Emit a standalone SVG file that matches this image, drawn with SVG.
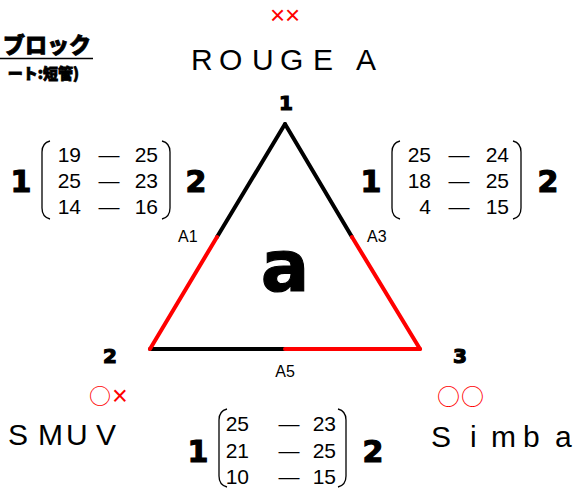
<svg xmlns="http://www.w3.org/2000/svg" width="580" height="489" viewBox="0 0 580 489">
<style>
.jp{font-family:"Noto Sans CJK JP","Noto Sans",sans-serif;font-weight:900;fill:#000;stroke:#000;stroke-width:0.8}
.big{font-family:"DejaVu Sans",sans-serif;font-weight:bold;fill:#000;stroke:#000;stroke-width:1.2}
.num{font-family:"Liberation Sans",Arial,sans-serif;font-size:21px;fill:#000}
.lbl{font-family:"Liberation Sans",Arial,sans-serif;font-size:16px;fill:#000}
.name{font-family:"Liberation Sans",Arial,sans-serif;font-size:30px;fill:#000}
.mark{font-family:"Noto Sans CJK JP","Noto Sans",sans-serif;fill:#f00}
.x{font-family:"Liberation Sans",Arial,sans-serif;fill:#f00}
.par{fill:none;stroke:#000;stroke-width:1.3}
.edge{fill:none;stroke-width:4;stroke-linecap:round}
</style>
<g id="title">
<text class="jp" x="91" y="53" font-size="22" text-anchor="end">ブロック</text>
<line x1="0" y1="58.5" x2="93" y2="58.5" stroke="#000" stroke-width="1.5"/>
<text class="jp" x="79" y="79" font-size="15" text-anchor="end" stroke-width="0.5">ート:短管)</text>
</g>
<g id="node-top">
<text class="x" x="270 285" y="24" font-size="26">××</text>
<text class="name" x="191 219 252 280 313" y="70">ROUGE</text>
<text class="name" x="356" y="70">A</text>
<text class="big" x="286" y="110" font-size="20" text-anchor="middle" stroke-width="0.8">1</text>
</g>
<g id="node-left">
<text class="mark" x="89" y="404" font-size="22">○</text>
<text class="x" x="112" y="405" font-size="27">×</text>
<text class="name" x="8 38 66 96" y="445">SMUV</text>
<text class="big" x="110" y="363" font-size="20" text-anchor="middle" stroke-width="0.8">2</text>
</g>
<g id="node-right">
<text class="mark" x="437 461" y="405" font-size="23">○○</text>
<text class="name" x="431 470 491 523 555" y="447">Simba</text>
<text class="big" x="460" y="363" font-size="20" text-anchor="middle" stroke-width="0.8">3</text>
</g>
<g id="connectors">
<line class="edge" x1="285" y1="124" x2="217" y2="237" stroke="#000"/>
<line class="edge" x1="285" y1="124" x2="352" y2="237" stroke="#000"/>
<line class="edge" x1="150" y1="349" x2="285" y2="349" stroke="#000"/>
<line class="edge" x1="217" y1="237" x2="150" y2="349" stroke="#f00" stroke-width="5.5"/>
<line class="edge" x1="352" y1="237" x2="420" y2="349" stroke="#f00" stroke-width="5.5"/>
<line class="edge" x1="285" y1="349" x2="420" y2="349" stroke="#f00" stroke-width="5.5"/>
<text class="lbl" x="178" y="242">A1</text>
<text class="lbl" x="367" y="242">A3</text>
<text class="lbl" x="285" y="377" text-anchor="middle">A5</text>
</g>
<g id="center-label">
<text class="big" x="285" y="291" font-size="72" text-anchor="middle" stroke-width="2.5">a</text>
</g>
<g id="matrix-left">
<text class="big" x="21" y="192" font-size="30" text-anchor="middle">1</text>
<path class="par" d="M50,141 Q42,143 42,152 V208 Q42,217 50,219"/>
<path class="par" d="M162,141 Q170,143 170,152 V208 Q170,217 162,219"/>
<text class="num" x="81" y="162" text-anchor="end">19</text>
<text class="num" x="81" y="188" text-anchor="end">25</text>
<text class="num" x="81" y="214" text-anchor="end">14</text>
<text class="num" x="109" y="162" text-anchor="middle">—</text>
<text class="num" x="109" y="188" text-anchor="middle">—</text>
<text class="num" x="109" y="214" text-anchor="middle">—</text>
<text class="num" x="158" y="162" text-anchor="end">25</text>
<text class="num" x="158" y="188" text-anchor="end">23</text>
<text class="num" x="158" y="214" text-anchor="end">16</text>
<text class="big" x="196" y="192" font-size="30" text-anchor="middle">2</text>
</g>
<g id="matrix-right">
<text class="big" x="371" y="192" font-size="30" text-anchor="middle">1</text>
<path class="par" d="M400,141 Q392,143 392,152 V208 Q392,217 400,219"/>
<path class="par" d="M513,141 Q521,143 521,152 V208 Q521,217 513,219"/>
<text class="num" x="431" y="162" text-anchor="end">25</text>
<text class="num" x="431" y="188" text-anchor="end">18</text>
<text class="num" x="431" y="214" text-anchor="end">4</text>
<text class="num" x="459" y="162" text-anchor="middle">—</text>
<text class="num" x="459" y="188" text-anchor="middle">—</text>
<text class="num" x="459" y="214" text-anchor="middle">—</text>
<text class="num" x="509" y="162" text-anchor="end">24</text>
<text class="num" x="509" y="188" text-anchor="end">25</text>
<text class="num" x="509" y="214" text-anchor="end">15</text>
<text class="big" x="548" y="192" font-size="30" text-anchor="middle">2</text>
</g>
<g id="matrix-bottom">
<text class="big" x="198" y="462" font-size="30" text-anchor="middle">1</text>
<path class="par" d="M227,409 Q219,411 219,420 V476 Q219,485 227,487"/>
<path class="par" d="M338,409 Q346,411 346,420 V476 Q346,485 338,487"/>
<text class="num" x="249" y="431" text-anchor="end">25</text>
<text class="num" x="249" y="458" text-anchor="end">21</text>
<text class="num" x="249" y="484" text-anchor="end">10</text>
<text class="num" x="289" y="431" text-anchor="middle">—</text>
<text class="num" x="289" y="458" text-anchor="middle">—</text>
<text class="num" x="289" y="484" text-anchor="middle">—</text>
<text class="num" x="336" y="431" text-anchor="end">23</text>
<text class="num" x="336" y="458" text-anchor="end">25</text>
<text class="num" x="336" y="484" text-anchor="end">15</text>
<text class="big" x="373" y="462" font-size="30" text-anchor="middle">2</text>
</g>
</svg>
